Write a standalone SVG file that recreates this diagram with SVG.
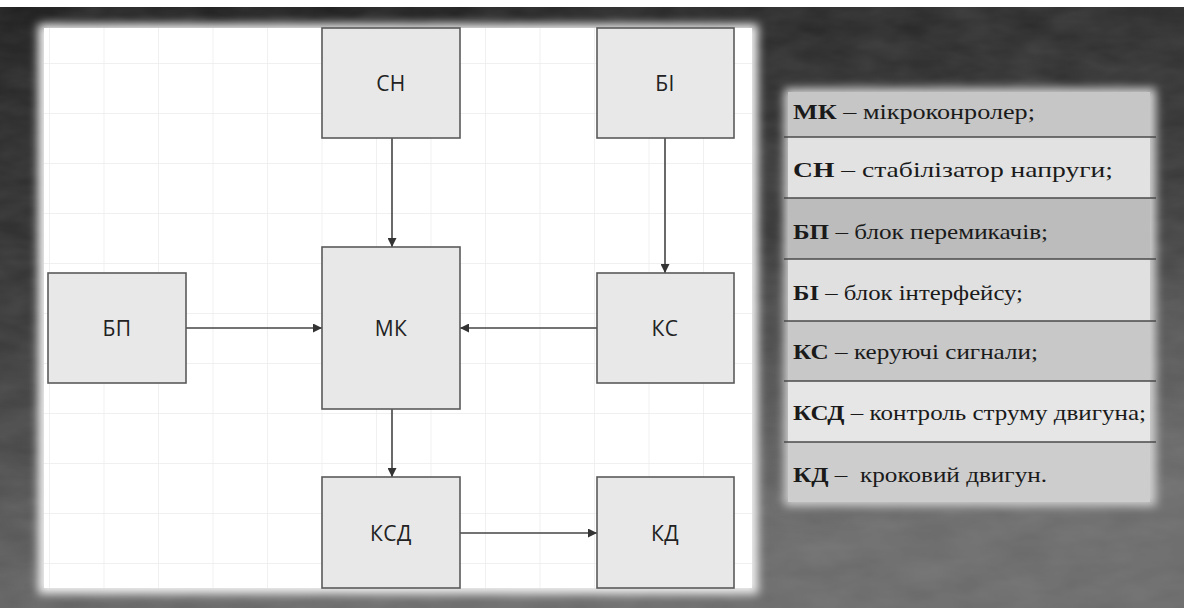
<svg xmlns="http://www.w3.org/2000/svg" width="1184" height="608" viewBox="0 0 1184 608">
<defs>
<style>
.box{fill:#e8e8e8;stroke:#5a5a5a;stroke-width:1.6}
.lbl{font-family:"Open Sans","Liberation Sans",sans-serif;font-size:21px;fill:#222;text-anchor:middle;dominant-baseline:central;letter-spacing:0.5px}
.conn{stroke:#444;stroke-width:1.6;fill:none}
.lg{font-family:"Liberation Serif",serif;font-size:21px;fill:#1a1a1a}
.lg tspan.b{font-weight:bold}
.sep{stroke:#4a4a4a;stroke-width:1.6}
</style>
<marker id="arr" viewBox="0 0 10 10" refX="10" refY="5" markerWidth="9" markerHeight="9" markerUnits="userSpaceOnUse" orient="auto">
<path d="M0,0 L10,5 L0,10 z" fill="#333"/>
</marker>
<linearGradient id="bg" x1="0" y1="0" x2="0.3" y2="1">
<stop offset="0" stop-color="#1c1c1c"/>
<stop offset="0.5" stop-color="#363636"/>
<stop offset="1" stop-color="#6a6a6a"/>
</linearGradient>
<filter id="tex" x="0" y="0" width="100%" height="100%">
<feTurbulence type="fractalNoise" baseFrequency="0.02 0.05" numOctaves="3" seed="4" result="n"/>
<feColorMatrix type="matrix" values="0 0 0 0 0.5  0 0 0 0 0.5  0 0 0 0 0.5  0 0 0 0.5 0" in="n" result="g"/>
<feComposite in="g" in2="SourceGraphic" operator="in"/>
</filter>
<filter id="soft" x="-10%" y="-10%" width="120%" height="120%">
<feGaussianBlur stdDeviation="5"/>
</filter>
<pattern id="grid" width="54.5" height="50" patternUnits="userSpaceOnUse" x="49" y="13">
<path d="M0,0 H54.5 M0,0 V50" stroke="#ececec" stroke-width="1.5" fill="none"/>
</pattern>
</defs>
<rect width="1184" height="608" fill="#ffffff"/>
<rect x="0" y="7" width="1184" height="601" fill="url(#bg)"/>
<rect x="0" y="7" width="1184" height="601" fill="#fff" filter="url(#tex)" opacity="0.35"/>
<g id="left-panel">
<rect x="38" y="24" width="720" height="570" fill="#f0f0f0" filter="url(#soft)"/>
<rect x="44" y="28" width="708" height="560" fill="#ffffff"/>
<rect x="44" y="28" width="708" height="560" fill="url(#grid)"/>
</g>
<g id="legend-panel">
<rect x="784" y="88" width="372" height="418" fill="#d0d0d0" filter="url(#soft)"/>
<rect x="788" y="92" width="362" height="45" fill="#c6c6c6"/>
<rect x="788" y="137" width="362" height="61" fill="#e2e2e2"/>
<rect x="788" y="198" width="362" height="61" fill="#bcbcbc"/>
<rect x="788" y="259" width="362" height="62" fill="#e0e0e0"/>
<rect x="788" y="321" width="362" height="60" fill="#c8c8c8"/>
<rect x="788" y="381" width="362" height="61" fill="#e6e6e6"/>
<rect x="788" y="442" width="362" height="60" fill="#cdcdcd"/>
<line class="sep" x1="784" y1="137" x2="1156" y2="137"/>
<line class="sep" x1="784" y1="198" x2="1156" y2="198"/>
<line class="sep" x1="784" y1="259" x2="1156" y2="259"/>
<line class="sep" x1="784" y1="321" x2="1156" y2="321"/>
<line class="sep" x1="784" y1="381" x2="1156" y2="381"/>
<line class="sep" x1="784" y1="442" x2="1156" y2="442"/>
<text class="lg" x="793" y="119" textLength="242" lengthAdjust="spacingAndGlyphs"><tspan class="b">МК</tspan> – мікроконролер;</text>
<text class="lg" x="793" y="177" textLength="320" lengthAdjust="spacingAndGlyphs"><tspan class="b">СН</tspan> – стабілізатор напруги;</text>
<text class="lg" x="793" y="239" textLength="255" lengthAdjust="spacingAndGlyphs"><tspan class="b">БП</tspan> – блок перемикачів;</text>
<text class="lg" x="793" y="300" textLength="230" lengthAdjust="spacingAndGlyphs"><tspan class="b">БІ</tspan> – блок інтерфейсу;</text>
<text class="lg" x="793" y="359" textLength="245" lengthAdjust="spacingAndGlyphs"><tspan class="b">КС</tspan> – керуючі сигнали;</text>
<text class="lg" x="793" y="420" textLength="353" lengthAdjust="spacingAndGlyphs"><tspan class="b">КСД</tspan> – контроль струму двигуна;</text>
<text class="lg" x="793" y="482" textLength="254" lengthAdjust="spacingAndGlyphs" xml:space="preserve"><tspan class="b">КД</tspan> –  кроковий двигун.</text>
</g>
<g id="connectors">
<line class="conn" x1="392" y1="138" x2="392" y2="247" marker-end="url(#arr)"/>
<line class="conn" x1="665" y1="138" x2="665" y2="273" marker-end="url(#arr)"/>
<line class="conn" x1="186" y1="328" x2="322" y2="328" marker-end="url(#arr)"/>
<line class="conn" x1="597" y1="328" x2="460" y2="328" marker-end="url(#arr)"/>
<line class="conn" x1="392" y1="409" x2="392" y2="477" marker-end="url(#arr)"/>
<line class="conn" x1="460" y1="533" x2="597" y2="533" marker-end="url(#arr)"/>
</g>
<g id="node-sn"><rect class="box" x="322" y="28" width="138" height="110"/><text class="lbl" x="391" y="83">СН</text></g>
<g id="node-bi"><rect class="box" x="597" y="28" width="137" height="110"/><text class="lbl" x="665" y="83">БІ</text></g>
<g id="node-bp"><rect class="box" x="48" y="273" width="138" height="110"/><text class="lbl" x="117" y="328">БП</text></g>
<g id="node-mk"><rect class="box" x="322" y="247" width="138" height="162"/><text class="lbl" x="391" y="328">МК</text></g>
<g id="node-ks"><rect class="box" x="597" y="273" width="137" height="110"/><text class="lbl" x="665" y="328">КС</text></g>
<g id="node-ksd"><rect class="box" x="322" y="477" width="138" height="111"/><text class="lbl" x="391" y="533">КСД</text></g>
<g id="node-kd"><rect class="box" x="597" y="477" width="137" height="111"/><text class="lbl" x="665" y="533">КД</text></g>
</svg>
